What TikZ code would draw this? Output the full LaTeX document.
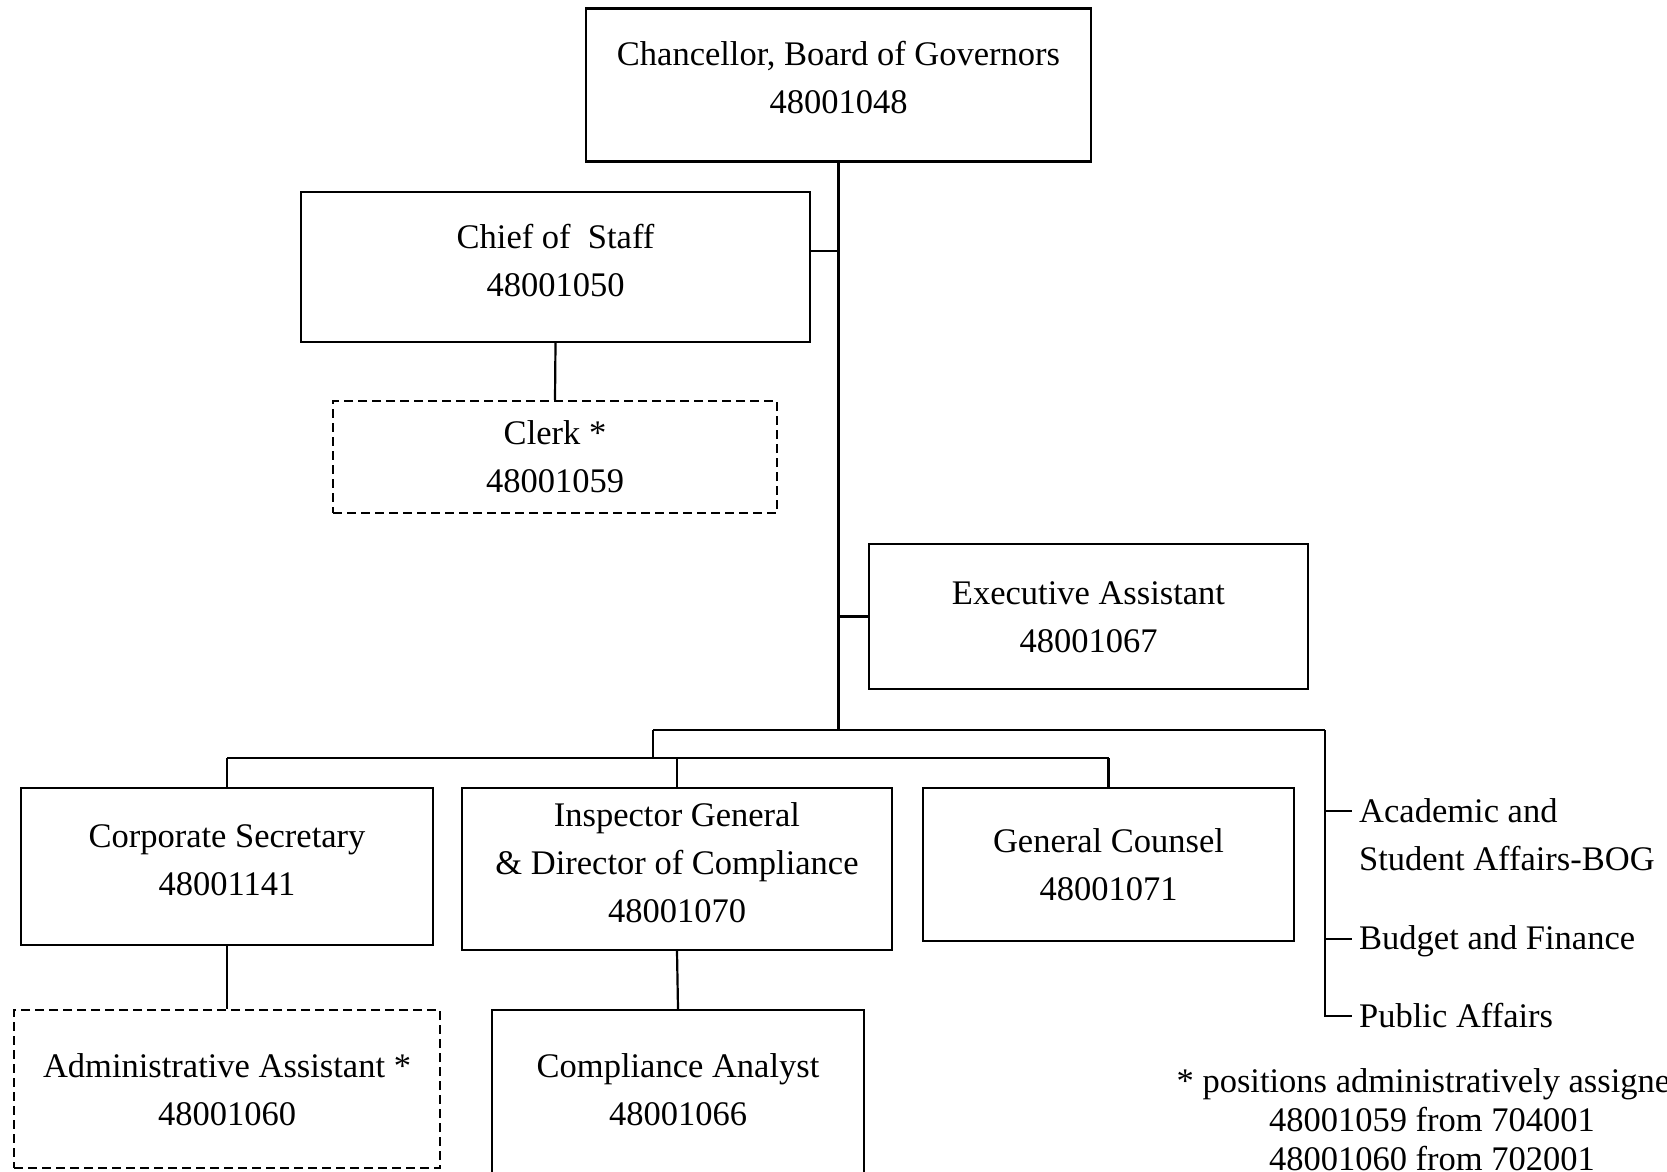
\documentclass[tikz,border=0pt]{standalone}
\usepackage{fontspec}
\setmainfont{Liberation Serif}
\begin{document}
\begin{tikzpicture}[x=1pt,y=-1pt,
  every node/.style={font=\fontsize{34.5}{48}\selectfont},
  post/.style={draw, line width=2.4pt, rectangle, inner sep=0pt},
  dashpost/.style={post, dash pattern=on 9pt off 5pt},
  title/.style={align=center, inner sep=0pt},
  link/.style={line width=2.2pt},
  side/.style={anchor=west, inner xsep=7pt, inner ysep=0pt, align=left}]
\useasboundingbox (0,0) rectangle (1667,1171);
\clip (0,0) rectangle (1667,1171);

% office boxes
\node[post, minimum width=505pt, minimum height=153pt] (chan) at (838.5,85) {};
\node[post, minimum width=509pt, minimum height=150pt] (chief) at (555.5,267) {};
\node[dashpost, minimum width=444pt, minimum height=112pt] (clerk) at (555,457) {};
\node[post, minimum width=439pt, minimum height=145pt] (exec) at (1088.5,616.5) {};
\node[post, minimum width=412pt, minimum height=157pt] (corp) at (227,866.5) {};
\node[post, minimum width=430pt, minimum height=162pt] (insp) at (677,869) {};
\node[post, minimum width=371pt, minimum height=153pt] (gc) at (1108.5,864.5) {};
\node[dashpost, minimum width=426pt, minimum height=158pt] (admin) at (227,1089) {};
\node[post, minimum width=372pt, minimum height=165pt] (comp) at (678,1092.5) {};

% office titles and position numbers
\node[title] (chanT) at ([yshift=7pt]chan.center) {Chancellor, Board of Governors\\48001048};
\node[title] (chiefT) at ([yshift=6.5pt]chief.center) {Chief of\ \ Staff\\48001050};
\node[title] (clerkT) at (clerk.center) {Clerk *\\48001059};
\node[title] (execT) at ([yshift=-1pt]exec.center) {Executive Assistant\\48001067};
\node[title] (corpT) at ([yshift=6.5pt]corp.center) {Corporate Secretary\\48001141};
\node[title] (inspT) at ([yshift=6.5pt]insp.center) {Inspector General\\\& Director of Compliance\\48001070};
\node[title] (gcT) at (gc.center) {General Counsel\\48001071};
\node[title] (adminT) at ([yshift=-0.5pt]admin.center) {Administrative Assistant *\\48001060};
\node[title] (compT) at ([yshift=2.7pt]comp.center) {Compliance Analyst\\48001066};

% junction points of the trunk and bars
\coordinate (hub)  at (838.5,730);
\coordinate (barL) at (653,730);
\coordinate (barR) at (1325,730);
\coordinate (row)  at (653,758);
\coordinate (sideEnd) at (1325,1016);

% committees on the right
\node[side] (acad) at (1352,835) {Academic and\\Student Affairs-BOG};
\node[side] (budget) at (1352,941) {Budget and Finance};
\node[side] (public) at (1352,1016) {Public Affairs};

% footnote
\node[align=center, font=\fontsize{34.5}{39}\selectfont] (note) at (1432,1120)
  {* positions administratively assigned\\48001059 from 704001\\48001060 from 702001};

% connectors
\draw[link] (chan.south) -- (hub);
\draw[link] ([yshift=16pt]chief.east) -- ([yshift=16pt]chief.east -| hub);
\draw[link] (exec.west) -- (exec.west -| hub);
\draw[link] (chief.south) -- (clerk.north);
\draw[link] (barL) -- (barR);
\draw[link] (barL) -- (row);
\draw[link] (corp.north |- row) -- (gc.north |- row);
\draw[link] (corp.north |- row) -- (corp.north);
\draw[link] (insp.north |- row) -- (insp.north);
\draw[link] (gc.north |- row) -- (gc.north);
\draw[link] (corp.south) -- (admin.north);
\draw[link] (insp.south) -- (comp.north);
\draw[link] (barR) -- (sideEnd) -- ([yshift=0pt]public.west);
\draw[link] ([yshift=24pt]acad.west -| barR) -- ([yshift=24pt]acad.west);
\draw[link] ([yshift=2pt]budget.west -| barR) -- ([yshift=2pt]budget.west);
\end{tikzpicture}
\end{document}
